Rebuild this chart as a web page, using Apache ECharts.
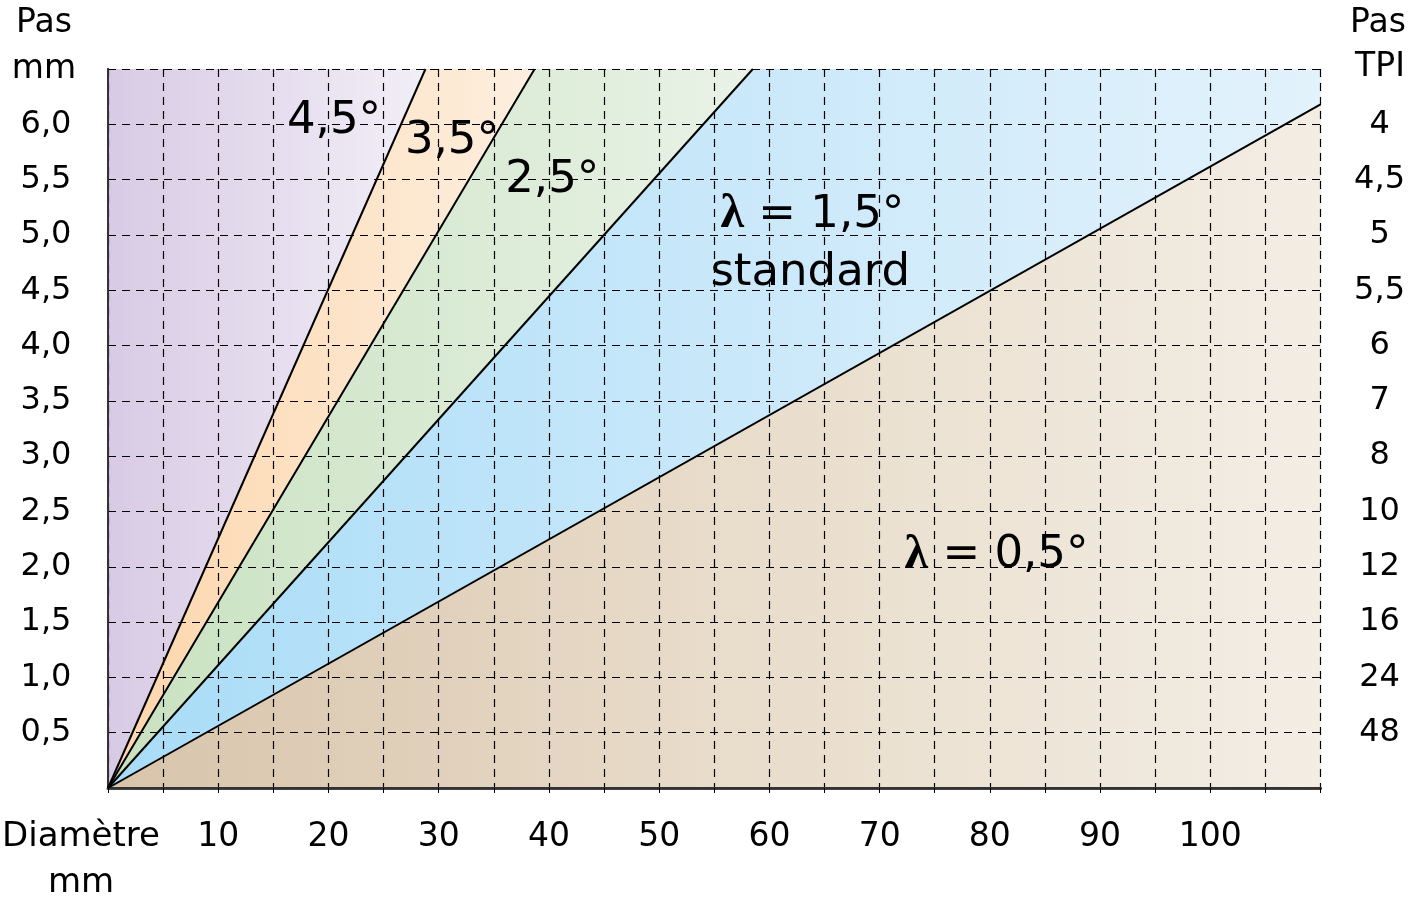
<!DOCTYPE html>
<html>
<head>
<meta charset="utf-8">
<script src="https://cdn.jsdelivr.net/npm/echarts@6/dist/echarts.min.js"></script>
<style>
html,body{margin:0;padding:0;background:#fff;}
#chart{width:1408px;height:909px;}
</style>
</head>
<body>
<div id="chart"></div>
<script>
// ---- data ----
const diameterMax = 110;          // mm
const pitchMax = 6.5;             // mm
const pitchLevels = [0.5, 1.0, 1.5, 2.0, 2.5, 3.0, 3.5, 4.0, 4.5, 5.0, 5.5, 6.0];
const tpiLabels   = ['48', '24', '16', '12', '10', '8', '7', '6', '5,5', '5', '4,5', '4'];
// boundary lines between helix-angle zones: [diameter, pitch] end points
const boundary4 = [[0, 0], [28.8, 6.5]];
const boundary3 = [[0, 0], [38.7, 6.5]];
const boundary2 = [[0, 0], [58.5, 6.5]];
const boundary1 = [[0, 0], [110, 6.18]];
const zoneLabels = ['4,5°', '3,5°', '2,5°', '1,5°', '0,5°'];

const FONT = 'DejaVu Sans';

function grad(stops) {
  return new echarts.graphic.LinearGradient(0, 0, 1, 0,
    stops.map(s => ({offset: s[0], color: s[1]})));
}
function zoneArea(pts) {
  // area under a boundary, capped at the top of the plot
  const d = pts.slice();
  const last = d[d.length - 1];
  if (last[0] < diameterMax) d.push([diameterMax, last[1]]);
  return d;
}

const chart = echarts.init(document.getElementById('chart'));

const areaBase = {
  type: 'line', symbol: 'none', z: 1, silent: true,
  lineStyle: {width: 0}
};
const lineBase = {
  type: 'line', symbol: 'none', z: 6, silent: true,
  lineStyle: {color: '#000', width: 2}
};

const annStyle = {fontFamily: FONT, fontSize: 45, color: '#000'};

chart.setOption({
  animation: false,
  backgroundColor: '#fff',
  grid: {left: 108, right: 87, top: 69, bottom: 121, containLabel: false},
  xAxis: [{
    type: 'value', min: 0, max: diameterMax, interval: 5, z: 5,
    axisLine: {show: true, onZero: false, lineStyle: {color: '#444', width: 3}},
    axisTick: {show: true, length: 5, lineStyle: {color: '#000', width: 1}},
    axisLabel: {
      fontFamily: FONT, fontSize: 33, color: '#000', margin: 33,
      formatter: v => (v > 0 && v < diameterMax && v % 10 === 0) ? String(v) : ''
    },
    splitLine: {show: true, lineStyle: {color: '#000', width: 1.2, type: [8, 6]}}
  }, {
    type: 'value', position: 'top', min: 0, max: diameterMax, z: 5,
    axisLine: {show: true, lineStyle: {color: '#333', width: 2}},
    axisTick: {show: false}, axisLabel: {show: false}, splitLine: {show: false}
  }],
  yAxis: [{
    type: 'value', min: 0, max: pitchMax, interval: 0.5, z: 5,
    axisLine: {show: true, onZero: false, lineStyle: {color: '#000', width: 2}},
    axisTick: {show: false},
    axisLabel: {
      fontFamily: FONT, fontSize: 32, color: '#000', margin: 62, align: 'center',
      formatter: v => (pitchLevels.indexOf(v) >= 0) ? v.toFixed(1).replace('.', ',') : ''
    },
    splitLine: {show: true, lineStyle: {color: '#000', width: 1.2, type: [8, 6]}}
  }, {
    type: 'value', position: 'right', min: 0, max: pitchMax, interval: 0.5, z: 5,
    axisLine: {show: true, lineStyle: {color: '#333', width: 2}},
    axisTick: {show: false},
    axisLabel: {
      fontFamily: FONT, fontSize: 32, color: '#000', margin: 59, align: 'center',
      formatter: v => {
        const i = pitchLevels.indexOf(v);
        return i >= 0 ? tpiLabels[i] : '';
      }
    },
    splitLine: {show: false}
  }],
  graphic: [
    {type: 'text', x: 44, y: 23, style: {text: 'Pas', fontFamily: FONT, fontSize: 33, fill: '#000', align: 'center', verticalAlign: 'middle'}},
    {type: 'text', x: 44, y: 69, style: {text: 'mm', fontFamily: FONT, fontSize: 33, fill: '#000', align: 'center', verticalAlign: 'middle'}},
    {type: 'text', x: 1378, y: 23, style: {text: 'Pas', fontFamily: FONT, fontSize: 33, fill: '#000', align: 'center', verticalAlign: 'middle'}},
    {type: 'text', x: 1380, y: 67, style: {text: 'TPI', fontFamily: FONT, fontSize: 33, fill: '#000', align: 'center', verticalAlign: 'middle'}},
    {type: 'text', x: 81, y: 837, style: {text: 'Diamètre', fontFamily: FONT, fontSize: 34, fill: '#000', align: 'center', verticalAlign: 'middle'}},
    {type: 'text', x: 81, y: 883, style: {text: 'mm', fontFamily: FONT, fontSize: 34, fill: '#000', align: 'center', verticalAlign: 'middle'}}
  ],
  series: [
    Object.assign({}, areaBase, {
      name: 'zone 4,5', data: [[0, pitchMax], [diameterMax, pitchMax]],
      areaStyle: {opacity: 1, color: grad([[0, '#d8cae4'], [0.27, '#f3f0f8'], [1, '#f7f5fa']])}
    }),
    Object.assign({}, areaBase, {
      name: 'zone 3,5', data: zoneArea(boundary4),
      areaStyle: {opacity: 1, color: grad([[0, '#fdd5aa'], [0.36, '#fdf0e1'], [1, '#fef6ee']])}
    }),
    Object.assign({}, areaBase, {
      name: 'zone 2,5', data: zoneArea(boundary3),
      areaStyle: {opacity: 1, color: grad([[0, '#c8e1bf'], [0.55, '#eaf3e8'], [1, '#f0f7ee']])}
    }),
    Object.assign({}, areaBase, {
      name: 'zone 1,5', data: zoneArea(boundary2),
      areaStyle: {opacity: 1, color: grad([[0, '#a8dcf7'], [0.5, '#c9e8fa'], [1, '#e3f2fb']])}
    }),
    Object.assign({}, areaBase, {
      name: 'zone 0,5', data: zoneArea(boundary1),
      areaStyle: {opacity: 1, color: grad([[0, '#d8c4ab'], [0.5, '#e8dcca'], [1, '#f3ede4']])},
      markPoint: {
        symbol: 'circle', symbolSize: 0, silent: true,
        label: {show: true, position: 'inside', fontFamily: FONT, fontSize: 45, color: '#000',
          rich: {l: {fontFamily: 'Liberation Serif', fontSize: 48, fontWeight: 'bold', color: '#000'},
                 t: annStyle}},
        data: [
          {coord: [20.5, 6.03], label: {formatter: zoneLabels[0]}},
          {coord: [31.2, 5.85], label: {formatter: zoneLabels[1]}},
          {coord: [40.3, 5.49], label: {formatter: zoneLabels[2]}},
          {coord: [63.9, 5.18], label: {formatter: '{l|λ}{t| = ' + zoneLabels[3] + '}'}},
          {coord: [63.7, 4.65], label: {formatter: 'standard'}},
          {coord: [80.6, 2.10], label: {formatter: '{l|λ}{t| = ' + zoneLabels[4] + '}'}}
        ]
      }
    }),
    Object.assign({}, lineBase, {name: 'b4', data: boundary4}),
    Object.assign({}, lineBase, {name: 'b3', data: boundary3}),
    Object.assign({}, lineBase, {name: 'b2', data: boundary2}),
    Object.assign({}, lineBase, {name: 'b1', data: boundary1})
  ]
});
</script>
</body>
</html>
